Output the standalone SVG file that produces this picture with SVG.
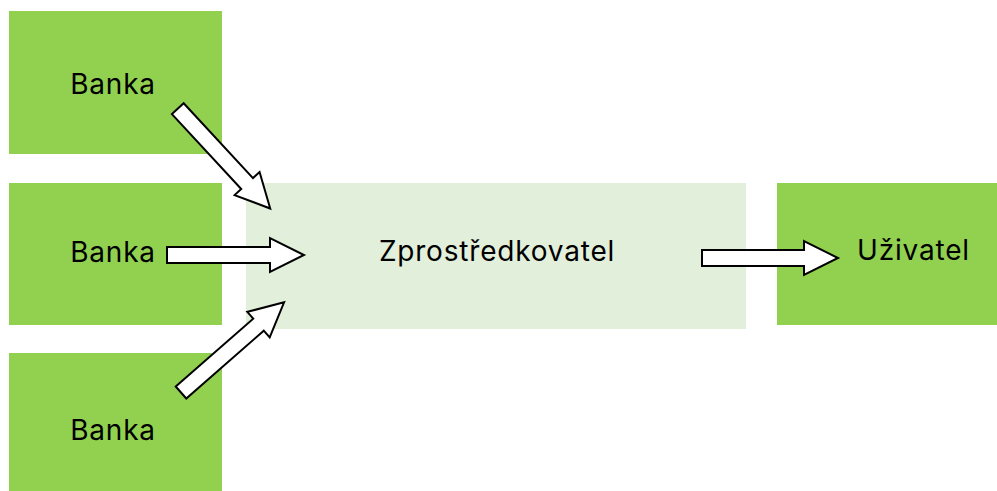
<svg xmlns="http://www.w3.org/2000/svg" width="997" height="491" viewBox="0 0 997 491">
<style>
.bank{fill:#92d050}
.mid{fill:#e2efda}
.lbl{font-family:Inter,"Noto Sans",sans-serif;font-size:28px;letter-spacing:0.8px;fill:#000;text-anchor:middle}
.arr{fill:#fff;stroke:#000;stroke-width:2;stroke-linejoin:miter}
</style>
<rect width="997" height="491" fill="#fff"/>
<g id="banka1"><rect class="bank" x="9" y="11" width="213" height="143"/><text class="lbl" x="113" y="94">Banka</text></g>
<g id="banka2"><rect class="bank" x="9" y="183" width="213" height="142"/><text class="lbl" x="113" y="262">Banka</text></g>
<g id="banka3"><rect class="bank" x="9" y="353" width="213" height="138"/><text class="lbl" x="113" y="440">Banka</text></g>
<g id="zprostredkovatel"><rect class="mid" x="246" y="183" width="500" height="146"/><text class="lbl" x="497" y="261">Zprostředkovatel</text></g>
<g id="uzivatel"><rect class="bank" x="777" y="183" width="220" height="142"/><text class="lbl" x="913.5" y="260">Uživatel</text></g>
<g id="connectors">
<polygon class="arr" transform="translate(177.8,108.7) rotate(47.2)" points="0,-8 102,-8 102,-17 136,0 102,17 102,8 0,8"/>
<polygon class="arr" points="167,247 270,247 270,238 304,255 270,272 270,263 167,263"/>
<polygon class="arr" transform="translate(181,392.5) rotate(-41.2)" points="0,-8 103,-8 103,-17 137,0 103,17 103,8 0,8"/>
<polygon class="arr" points="702,250 804,250 804,241 838,258 804,275 804,266 702,266"/>
</g>
</svg>
